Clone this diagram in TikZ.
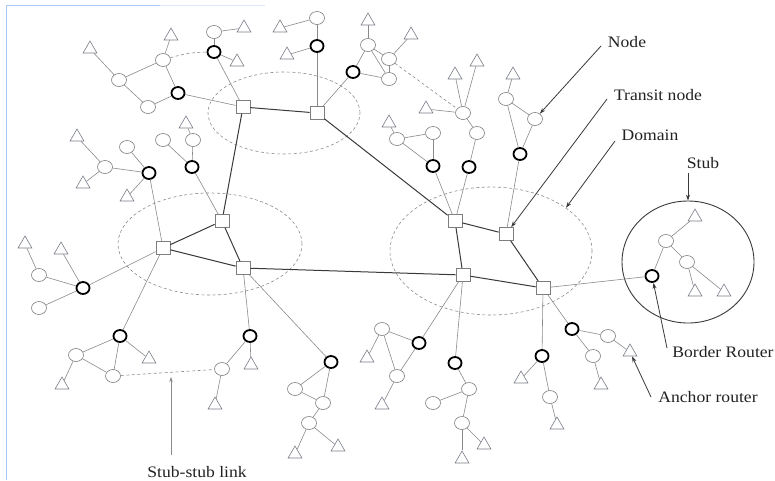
\documentclass[tikz,border=0pt]{standalone}
\usepackage{fontspec}
\setmainfont{Liberation Serif}
\usepackage{graphicx}
\usetikzlibrary{shapes.geometric,arrows.meta}

\definecolor{edgegray}{HTML}{8A8A8A}
\definecolor{shapegray}{HTML}{7E7E7E}
\definecolor{trigray}{HTML}{7A7E8A}
\definecolor{transitdark}{HTML}{3A3A3A}
\definecolor{domaingray}{HTML}{8C8C8C}
\definecolor{labeldark}{HTML}{222222}
\definecolor{framblue}{HTML}{A9C9F5}

\tikzset{
  rtr/.style={ellipse, draw=shapegray, line width=0.6pt, minimum width=15pt, minimum height=13pt, inner sep=0pt, fill=white},
  bdr/.style={ellipse, draw=black, line width=1.8pt, minimum width=13pt, minimum height=12pt, inner sep=0pt, fill=white},
  anc/.style={regular polygon, regular polygon sides=3, draw=trigray, line width=0.6pt, minimum size=16pt, inner sep=0pt, yshift=-2pt},
  trn/.style={rectangle, draw=shapegray, line width=0.7pt, minimum width=14pt, minimum height=13pt, inner sep=0pt, fill=white},
  lnk/.style={draw=edgegray, line width=0.6pt},
  tlk/.style={draw=transitdark, line width=1pt},
  sslk/.style={draw=domaingray, line width=0.6pt, dash pattern=on 3pt off 2.5pt},
  domring/.style={ellipse, draw=domaingray, line width=0.6pt, dash pattern=on 3pt off 2.5pt, inner sep=0pt},
  stubring/.style={ellipse, draw=transitdark, line width=0.9pt, inner sep=0pt},
  lbl/.style={text=labeldark, font=\fontsize{16pt}{18pt}\selectfont, inner sep=0pt, anchor=base},
  pointer/.style={draw=transitdark, line width=0.8pt, -{Stealth[length=6pt,width=4pt]}},
  thinpointer/.style={draw=edgegray, line width=0.6pt, -{Stealth[length=5pt,width=3.5pt]}},
}

\begin{document}
\begin{tikzpicture}[x=1pt, y=-1pt]
\useasboundingbox (0,0) rectangle (775,480);
\fill[white] (0,0) rectangle (775,480);

% window frame edge
\draw[framblue, line width=1pt] (6.5,480) -- (6.5,5.5) -- (160,5.5);
\draw[framblue!40, line width=0.8pt] (160,5.5) -- (265,5.5);

% domains
\node[domring, minimum width=152pt, minimum height=82pt] (domT) at (284,113) {};
\node[domring, minimum width=184pt, minimum height=102pt] (domL) at (210,244) {};
\node[domring, minimum width=202pt, minimum height=128pt] (domR) at (491,251) {};
\node[stubring, minimum width=132pt, minimum height=122pt] (stubC) at (688,262) {};

% transit nodes
\node[trn] (s1) at (243,107) {};
\node[trn] (s2) at (317,113) {};
\node[trn] (s3) at (455,221) {};
\node[trn] (s4) at (506,234) {};
\node[trn] (s5) at (463,275) {};
\node[trn] (s6) at (543,288) {};
\node[trn] (s7) at (163,248) {};
\node[trn] (s8) at (222,221) {};
\node[trn] (s9) at (243,268) {};

% top-left stub
\node[anc] (t1) at (90,47) {};
\node[rtr] (c1) at (119,80) {};
\node[rtr] (c2) at (163,60) {};
\node[anc] (t2) at (171,34) {};
\node[rtr] (c3) at (148,107) {};
\node[bdr] (b1) at (178,93) {};
\node[rtr] (c4) at (214,32) {};
\node[anc] (t3) at (244,26) {};
\node[bdr] (b2) at (214,52) {};
\node[anc] (t4) at (237,60) {};

% top-middle stubs
\node[anc] (t5) at (280,26) {};
\node[rtr] (c5) at (317,18) {};
\node[bdr] (b3) at (317,46) {};
\node[anc] (t6) at (287,53) {};
\node[anc] (t7) at (368,19) {};
\node[rtr] (c6) at (368,45) {};
\node[rtr] (c7) at (389,59) {};
\node[rtr] (c8) at (389,79) {};
\node[anc] (t8) at (411,33) {};
\node[bdr] (b4) at (353,72) {};

% upper-right stubs
\node[anc] (t9) at (455,73) {};
\node[anc] (t10) at (477,60) {};
\node[anc] (t11) at (426,107) {};
\node[rtr] (c10) at (463,113) {};
\node[rtr] (c11) at (477,133) {};
\node[bdr] (b5) at (469,167) {};
\node[anc] (t12) at (389,121) {};
\node[rtr] (c12) at (397,139) {};
\node[rtr] (c13) at (433,133) {};
\node[bdr] (b6) at (433,166) {};
\node[anc] (t13) at (513,73) {};
\node[rtr] (c14) at (506,99) {};
\node[rtr] (c15) at (535,119) {};
\node[bdr] (b7) at (520,154) {};

% left-middle stubs
\node[anc] (t14) at (77,135) {};
\node[rtr] (c16) at (105,167) {};
\node[anc] (t15) at (83,182) {};
\node[rtr] (c17) at (127,147) {};
\node[bdr] (b8) at (149,173) {};
\node[anc] (t16) at (127,195) {};
\node[rtr] (c18) at (163,140) {};
\node[anc] (t17) at (186,122) {};
\node[rtr] (c19) at (193,140) {};
\node[bdr] (b9) at (192,167) {};
\node[anc] (t18) at (25,242) {};
\node[anc] (t19) at (61,248) {};
\node[rtr] (c20) at (39,275) {};
\node[rtr] (c21) at (39,308) {};
\node[bdr] (b10) at (83,288) {};

% bottom-left stubs
\node[bdr] (b11) at (120,336) {};
\node[rtr] (c22) at (76,355) {};
\node[rtr] (c23) at (113,376) {};
\node[anc] (t20) at (149,357) {};
\node[anc] (t21) at (62,383) {};
\node[bdr] (b12) at (250,336) {};
\node[anc] (t22) at (251,363) {};
\node[rtr] (c24) at (222,369) {};
\node[anc] (t23) at (215,403) {};
\node[bdr] (b13) at (331,362) {};
\node[rtr] (c25) at (295,389) {};
\node[rtr] (c26) at (323,403) {};
\node[rtr] (c27) at (309,423) {};
\node[anc] (t24) at (295,452) {};
\node[anc] (t25) at (338,445) {};

% bottom-middle stubs
\node[bdr] (b14) at (419,343) {};
\node[rtr] (c28) at (382,329) {};
\node[anc] (t26) at (367,356) {};
\node[rtr] (c29) at (397,376) {};
\node[anc] (t27) at (382,403) {};
\node[bdr] (b15) at (455,363) {};
\node[rtr] (c30) at (469,389) {};
\node[rtr] (c31) at (433,403) {};
\node[rtr] (c32) at (462,423) {};
\node[anc] (t28) at (462,457) {};
\node[anc] (t29) at (484,443) {};

% bottom-right stubs
\node[bdr] (b16) at (572,329) {};
\node[rtr] (c33) at (608,336) {};
\node[anc] (t30) at (630,350) {};
\node[rtr] (c34) at (593,356) {};
\node[anc] (t31) at (601,383) {};
\node[bdr] (b17) at (542,356) {};
\node[anc] (t32) at (521,377) {};
\node[rtr] (c35) at (550,397) {};
\node[anc] (t33) at (557,423) {};

% stub shown in detail
\node[anc] (t34) at (695,215) {};
\node[rtr] (c36) at (666,241) {};
\node[rtr] (c37) at (687,262) {};
\node[bdr] (bS) at (652,276) {};
\node[anc] (t35) at (695,290) {};
\node[anc] (t36) at (724,290) {};

% transit links
\draw[tlk] (s1) -- (s2);
\draw[tlk] (s2) -- (s3);
\draw[tlk] (s3) -- (s4);
\draw[tlk] (s3) -- (s5);
\draw[tlk] (s4) -- (s6);
\draw[tlk] (s5) -- (s6);
\draw[tlk] (s7) -- (s8);
\draw[tlk] (s7) -- (s9);
\draw[tlk] (s8) -- (s9);
\draw[tlk] (s8) -- (s1);
\draw[tlk] (s9) -- (s5);

% transit-to-stub links
\draw[lnk] (b1) -- (s1);
\draw[lnk] (b2) -- (s1);
\draw[lnk] (b3) -- (s2);
\draw[lnk] (b4) -- (s2);
\draw[lnk] (b5) -- (s3);
\draw[lnk] (b6) -- (s3);
\draw[lnk] (b7) -- (s4);
\draw[lnk] (b8) -- (s7);
\draw[lnk] (b9) -- (s8);
\draw[lnk] (b10) -- (s7);
\draw[lnk] (s7) -- (b11);
\draw[lnk] (s9) -- (b12);
\draw[lnk] (s9) -- (b13);
\draw[lnk] (s5) -- (b14);
\draw[lnk] (s5) -- (b15);
\draw[lnk] (s6) -- (b16);
\draw[lnk] (s6) -- (b17);
\draw[lnk] (s6) -- (bS);

% stub links
\draw[lnk] (t1) -- (c1);
\draw[lnk] (c1) -- (c2);
\draw[lnk] (c1) -- (c3);
\draw[lnk] (c2) -- (t2);
\draw[lnk] (c2) -- (b1);
\draw[lnk] (c3) -- (b1);
\draw[lnk] (c4) -- (b2);
\draw[lnk] (c4) -- (t3);
\draw[lnk] (b2) -- (t4);

\draw[lnk] (t5) -- (c5);
\draw[lnk] (c5) -- (b3);
\draw[lnk] (b3) -- (t6);
\draw[lnk] (t7) -- (c6);
\draw[lnk] (c6) -- (c7);
\draw[lnk] (c6) -- (c8);
\draw[lnk] (c7) -- (c8);
\draw[lnk] (c7) -- (t8);
\draw[lnk] (c6) -- (b4);
\draw[lnk] (b4) -- (c8);

\draw[lnk] (c10) -- (t9);
\draw[lnk] (c10) -- (t10);
\draw[lnk] (c10) -- (t11);
\draw[lnk] (c10) -- (c11);
\draw[lnk] (c11) -- (b5);
\draw[lnk] (t12) -- (c12);
\draw[lnk] (c12) -- (c13);
\draw[lnk] (c12) -- (b6);
\draw[lnk] (c13) -- (b6);
\draw[lnk] (t13) -- (c14);
\draw[lnk] (c14) -- (c15);
\draw[lnk] (c14) -- (b7);
\draw[lnk] (c15) -- (b7);

\draw[lnk] (t14) -- (c16);
\draw[lnk] (t15) -- (c16);
\draw[lnk] (c16) -- (b8);
\draw[lnk] (c17) -- (b8);
\draw[lnk] (t16) -- (b8);
\draw[lnk] (c18) -- (b9);
\draw[lnk] (t17) -- (c19);
\draw[lnk] (c19) -- (b9);
\draw[lnk] (t18) -- (c20);
\draw[lnk] (c20) -- (b10);
\draw[lnk] (c21) -- (b10);
\draw[lnk] (t19) -- (b10);

\draw[lnk] (b11) -- (c22);
\draw[lnk] (b11) -- (c23);
\draw[lnk] (b11) -- (t20);
\draw[lnk] (c22) -- (c23);
\draw[lnk] (c22) -- (t21);
\draw[lnk] (b12) -- (t22);
\draw[lnk] (b12) -- (c24);
\draw[lnk] (c24) -- (t23);
\draw[lnk] (b13) -- (c25);
\draw[lnk] (b13) -- (c26);
\draw[lnk] (c25) -- (c26);
\draw[lnk] (c26) -- (c27);
\draw[lnk] (c27) -- (t24);
\draw[lnk] (c27) -- (t25);

\draw[lnk] (b14) -- (c28);
\draw[lnk] (c28) -- (t26);
\draw[lnk] (c28) -- (c29);
\draw[lnk] (b14) -- (c29);
\draw[lnk] (c29) -- (t27);
\draw[lnk] (b15) -- (c30);
\draw[lnk] (c30) -- (c31);
\draw[lnk] (c30) -- (c32);
\draw[lnk] (c32) -- (t28);
\draw[lnk] (c32) -- (t29);

\draw[lnk] (b16) -- (c33);
\draw[lnk] (c33) -- (t30);
\draw[lnk] (b16) -- (c34);
\draw[lnk] (c34) -- (t31);
\draw[lnk] (b17) -- (t32);
\draw[lnk] (b17) -- (c35);
\draw[lnk] (c35) -- (t33);

\draw[lnk] (t34) -- (c36);
\draw[lnk] (c36) -- (bS);
\draw[lnk] (c36) -- (c37);
\draw[lnk] (c37) -- (t36);
\draw[lnk] (c37) -- (t35);

% stub-stub links
\draw[sslk] (c2) to[bend left=8] (b2);
\draw[sslk] (c7) -- (c10);
\draw[sslk] (c23) -- (c24);

% labels
\node[lbl] (lNode) at (627,47) {\scalebox{1.1}[1]{Node}};
\node[lbl] (lTransit) at (658,100) {\scalebox{1.1}[1]{Transit node}};
\node[lbl] (lDomain) at (650,140) {\scalebox{1.1}[1]{Domain}};
\node[lbl] (lStub) at (703,168) {\scalebox{1.1}[1]{Stub}};
\node[lbl] (lBorder) at (723,357) {\scalebox{1.1}[1]{Border Router}};
\node[lbl] (lAnchor) at (708,402) {\scalebox{1.1}[1]{Anchor router}};
\node[lbl] (lLink) at (197,477) {\scalebox{1.1}[1]{Stub-stub link}};

% label pointers
\coordinate (pNode) at (601,46);
\coordinate (pTransit) at (607,99);
\coordinate (pDomain) at (615,141);
\coordinate (pStub) at (688,173);
\coordinate (pBorder) at (667,348);
\coordinate (pAnchor) at (651,397);
\coordinate (pLink) at (171,455);
\coordinate (pLinkTip) at (171,377);

\draw[pointer] (pNode) -- (c15);
\draw[pointer] (pTransit) -- (s4);
\draw[pointer] (pDomain) -- (domR.30);
\draw[pointer] (pStub) -- (stubC.north);
\draw[pointer] (pBorder) -- (bS);
\draw[pointer] (pAnchor) -- (t30);
\draw[thinpointer] (pLink) -- (pLinkTip);
\end{tikzpicture}
\end{document}
